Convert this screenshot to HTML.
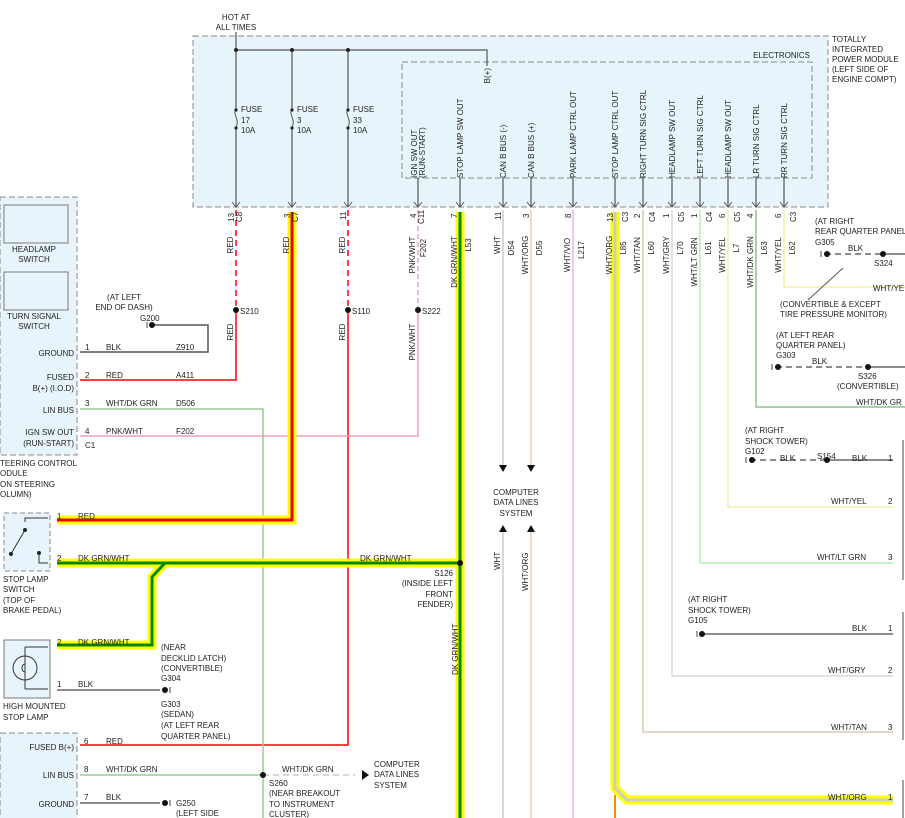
<!DOCTYPE html>
<html><head><meta charset="utf-8"><style>
html,body{margin:0;padding:0;background:#fff;}
svg{display:block;}
text{font-family:"Liberation Sans",sans-serif;font-size:8px;fill:#222;}
</style></head><body>
<svg width="905" height="818" viewBox="0 0 905 818">
<!-- top module -->
<rect x="193" y="36" width="635" height="171" fill="#e8f4fb" stroke="#888" stroke-dasharray="6,3"/>
<rect x="402" y="62" width="410" height="116" fill="none" stroke="#888" stroke-dasharray="6,3"/>
<text x="236" y="20" text-anchor="middle">HOT AT</text>
<text x="236" y="30" text-anchor="middle">ALL TIMES</text>
<text x="810" y="58" text-anchor="end">ELECTRONICS</text>
<text x="832" y="42">TOTALLY</text><text x="832" y="52">INTEGRATED</text><text x="832" y="62">POWER MODULE</text><text x="832" y="72">(LEFT SIDE OF</text><text x="832" y="82">ENGINE COMPT)</text>
<g stroke="#555" fill="none" stroke-width="1.2">
<path d="M236 32V207M292 50V207M348 50V207M236 50H487V66"/>
<path d="M418 178V207M460 178V207M503 178V207M531 178V207M573 178V207M615 178V207M643 178V207M672 178V207M700 178V207M728 178V207M756 178V207M784 178V207"/>
</g>
<g fill="#222"><circle cx="236" cy="50" r="2"/><circle cx="292" cy="50" r="2"/><circle cx="348" cy="50" r="2"/></g>
<!-- fuses -->
<g fill="#e8f4fb" stroke="#555">
<rect x="232" y="110" width="8" height="18" stroke="none"/><rect x="288" y="110" width="8" height="18" stroke="none"/><rect x="344" y="110" width="8" height="18" stroke="none"/>
<path d="M236 110c-4 4 4 8 0 18M292 110c-4 4 4 8 0 18M348 110c-4 4 4 8 0 18" fill="none"/>
</g>
<g fill="#222"><circle cx="236" cy="110" r="1.6"/><circle cx="236" cy="128" r="1.6"/><circle cx="292" cy="110" r="1.6"/><circle cx="292" cy="128" r="1.6"/><circle cx="348" cy="110" r="1.6"/><circle cx="348" cy="128" r="1.6"/></g>
<text x="241" y="112">FUSE</text><text x="241" y="123">17</text><text x="241" y="133">10A</text>
<text x="297" y="112">FUSE</text><text x="297" y="123">3</text><text x="297" y="133">10A</text>
<text x="353" y="112">FUSE</text><text x="353" y="123">33</text><text x="353" y="133">10A</text>
<!-- arrowheads at bottom -->
<g stroke="#555" fill="none">
<path d="M232 202l4 5 4-5M288 202l4 5 4-5M344 202l4 5 4-5M414 202l4 5 4-5M456 202l4 5 4-5M499 202l4 5 4-5M527 202l4 5 4-5M569 202l4 5 4-5M611 202l4 5 4-5M639 202l4 5 4-5M668 202l4 5 4-5M696 202l4 5 4-5M724 202l4 5 4-5M752 202l4 5 4-5M780 202l4 5 4-5"/>
</g>
<!-- column labels -->
<g font-size="7.5">
<text transform="translate(417,178) rotate(-90)">IGN SW OUT</text>
<text transform="translate(425,178) rotate(-90)">(RUN-START)</text>
<text transform="translate(463,178) rotate(-90)">STOP LAMP SW OUT</text>
<text transform="translate(490,68) rotate(-90)" text-anchor="end">B(+)</text>
<text transform="translate(506,178) rotate(-90)">CAN B BUS (-)</text>
<text transform="translate(534,178) rotate(-90)">CAN B BUS (+)</text>
<text transform="translate(576,178) rotate(-90)">PARK LAMP CTRL OUT</text>
<text transform="translate(618,178) rotate(-90)">STOP LAMP CTRL OUT</text>
<text transform="translate(646,178) rotate(-90)">RIGHT TURN SIG CTRL</text>
<text transform="translate(675,178) rotate(-90)">HEADLAMP SW OUT</text>
<text transform="translate(703,178) rotate(-90)">LEFT TURN SIG CTRL</text>
<text transform="translate(731,178) rotate(-90)">HEADLAMP SW OUT</text>
<text transform="translate(759,178) rotate(-90)">LR TURN SIG CTRL</text>
<text transform="translate(787,178) rotate(-90)">RR TURN SIG CTRL</text>
</g>
<!-- left modules -->
<rect x="0" y="197" width="77" height="258" fill="#e8f4fb" stroke="#888" stroke-dasharray="6,3"/>
<rect x="4" y="205" width="64" height="38" fill="#e8f4fb" stroke="#777"/>
<rect x="4" y="272" width="64" height="38" fill="#e8f4fb" stroke="#777"/>
<text x="34" y="252" text-anchor="middle">HEADLAMP</text><text x="34" y="262" text-anchor="middle">SWITCH</text>
<text x="34" y="319" text-anchor="middle">TURN SIGNAL</text><text x="34" y="329" text-anchor="middle">SWITCH</text>
<g text-anchor="end"><text x="74" y="356">GROUND</text><text x="74" y="380">FUSED</text><text x="74" y="391">B(+) (I.O.D)</text><text x="74" y="413">LIN BUS</text><text x="74" y="435">IGN SW OUT</text><text x="74" y="446">(RUN-START)</text></g>
<text x="85" y="448">C1</text>
<text x="0" y="466">TEERING CONTROL</text><text x="0" y="476">ODULE</text><text x="0" y="487">ON STEERING</text><text x="0" y="497">OLUMN)</text>
<rect x="4" y="513" width="46" height="58" fill="#e8f4fb" stroke="#888" stroke-dasharray="5,3"/>
<g stroke="#333" fill="none"><path d="M11 554L25 530M25 522V518H48M39 553V563H48"/></g>
<g fill="#222"><circle cx="11" cy="554" r="2"/><circle cx="25" cy="530" r="2"/><circle cx="39" cy="553" r="2"/></g>
<text x="3" y="582">STOP LAMP</text><text x="3" y="592">SWITCH</text><text x="3" y="603">(TOP OF</text><text x="3" y="613">BRAKE PEDAL)</text>
<rect x="4" y="640" width="46" height="58" fill="#e8f4fb" stroke="#777"/>
<circle cx="25" cy="668" r="12" fill="none" stroke="#333"/>
<path d="M25 647V689M25 647H48M25 689H48M25 664c-4 0-4 8 0 8" stroke="#333" fill="none"/>
<text x="3" y="709">HIGH MOUNTED</text><text x="3" y="720">STOP LAMP</text>
<rect x="0" y="733" width="77" height="90" fill="#e8f4fb" stroke="#888" stroke-dasharray="6,3"/>
<g text-anchor="end"><text x="74" y="750">FUSED B(+)</text><text x="74" y="778">LIN BUS</text><text x="74" y="807">GROUND</text></g>
<!-- wires thin -->
<g fill="none" stroke-width="1.5">
<path d="M236 210V310" stroke="#f00" stroke-dasharray="6,4"/>
<path d="M236 310V380H80" stroke="#f00"/>
<path d="M348 210V310" stroke="#f00" stroke-dasharray="6,4"/>
<path d="M348 310V745H80" stroke="#f00"/>
<path d="M418 210V310" stroke="#f4a0b0" stroke-dasharray="5,3"/>
<path d="M418 310V436H80" stroke="#f4a0b0"/>
<path d="M150 325H208V352H80" stroke="#555"/>
<path d="M80 409H263V818M80 775H263" stroke="#9c9"/>
<path d="M263 775H355" stroke="#ccc" stroke-dasharray="6,4"/>
<path d="M57 690H160M80 803H160" stroke="#666"/>
<path d="M503 210V470M503 530V818" stroke="#ccc"/>
<path d="M531 210V470M531 530V818" stroke="#f0d0b0"/>
<path d="M573 210V818" stroke="#f0b0f0"/>
<path d="M643 210V732H893" stroke="#d8ccb8"/>
<path d="M672 210V676H893" stroke="#d8d8d8"/>
<path d="M700 210V563H893" stroke="#b8ecb8"/>
<path d="M728 210V507H893" stroke="#f4f0a8"/>
<path d="M756 210V407H905" stroke="#90c090"/>
<path d="M784 210V287H905" stroke="#f4f0a8"/>
<path d="M825 254H883M776 367H868M750 460H827" stroke="#666" stroke-dasharray="6,4"/>
<path d="M883 254H905M868 367H905M827 460H893M700 634H893" stroke="#666"/>
<path d="M843 268L808 300" stroke="#555" stroke-width="1"/>
</g>
<!-- thick wires -->
<g fill="none" stroke-linejoin="miter">
<path d="M292 212V520H57" stroke="#ff0" stroke-width="9"/>
<path d="M292 212V520H57" stroke="#e00" stroke-width="3"/>
<path d="M460 212V818M57 563H460M165 563L152 577V645H57" stroke="#ff0" stroke-width="9"/>
<path d="M460 212V818M57 563H460M165 563L152 577V645H57" stroke="#080" stroke-width="3"/>
<path d="M615 212V788L627 800H893" stroke="#ff0" stroke-width="9"/>
<path d="M615 212V788L627 800H893" stroke="#ccc" stroke-width="3"/>
<path d="M615 795V818" stroke="#f80" stroke-width="2"/>
</g>
<!-- dots -->
<g fill="#111"><circle cx="236" cy="310" r="3"/><circle cx="348" cy="310" r="3"/><circle cx="418" cy="310" r="3"/><circle cx="460" cy="563" r="3"/><circle cx="263" cy="775" r="3"/><circle cx="883" cy="254" r="3"/><circle cx="868" cy="367" r="3"/><circle cx="827" cy="460" r="3"/>
<circle cx="152" cy="325" r="3"/><circle cx="827" cy="254" r="3"/><circle cx="778" cy="367" r="3"/><circle cx="752" cy="460" r="3"/><circle cx="702" cy="634" r="3"/><circle cx="165" cy="690" r="3"/><circle cx="165" cy="803" r="3"/>
<path d="M499 465h8l-4 7zM527 465h8l-4 7zM499 532h8l-4-7zM527 532h8l-4-7zM362 770v10l7-5z"/>
</g>
<g stroke="#444"><path d="M147 322v6M821 251v6M772 364v6M746 457v6M697 631v6M170 687v6M170 800v6"/></g>
<!-- right connector brackets -->
<g stroke="#444" fill="none"><path d="M903 440V580M903 612V740M903 780V818"/></g>
<!-- labels near wires -->
<text x="240" y="314">S210</text><text x="352" y="314">S110</text><text x="422" y="314">S222</text>
<text x="124" y="300" text-anchor="middle">(AT LEFT</text><text x="124" y="310" text-anchor="middle">END OF DASH)</text><text x="140" y="321">G200</text>
<text x="85" y="350">1</text><text x="106" y="350">BLK</text><text x="176" y="350">Z910</text>
<text x="85" y="378">2</text><text x="106" y="378">RED</text><text x="176" y="378">A411</text>
<text x="85" y="406">3</text><text x="106" y="406">WHT/DK GRN</text><text x="176" y="406">D506</text>
<text x="85" y="434">4</text><text x="106" y="434">PNK/WHT</text><text x="176" y="434">F202</text>
<text x="57" y="519">1</text><text x="78" y="519">RED</text>
<text x="57" y="561">2</text><text x="78" y="561">DK GRN/WHT</text>
<text x="360" y="561">DK GRN/WHT</text>
<text x="453" y="576" text-anchor="end">S126</text><text x="453" y="586" text-anchor="end">(INSIDE LEFT</text><text x="453" y="597" text-anchor="end">FRONT</text><text x="453" y="607" text-anchor="end">FENDER)</text>
<text x="57" y="645">2</text><text x="78" y="645">DK GRN/WHT</text>
<text x="57" y="687">1</text><text x="78" y="687">BLK</text>
<text x="161" y="650">(NEAR</text><text x="161" y="661">DECKLID LATCH)</text><text x="161" y="671">(CONVERTIBLE)</text><text x="161" y="681">G304</text>
<text x="161" y="707">G303</text><text x="161" y="717">(SEDAN)</text><text x="161" y="728">(AT LEFT REAR</text><text x="161" y="739">QUARTER PANEL)</text>
<text x="84" y="744">6</text><text x="106" y="744">RED</text>
<text x="84" y="772">8</text><text x="106" y="772">WHT/DK GRN</text><text x="282" y="772">WHT/DK GRN</text>
<text x="84" y="800">7</text><text x="106" y="800">BLK</text><text x="176" y="806">G250</text><text x="176" y="816">(LEFT SIDE</text>
<text x="269" y="786">S260</text><text x="269" y="796">(NEAR BREAKOUT</text><text x="269" y="807">TO INSTRUMENT</text><text x="269" y="817">CLUSTER)</text>
<text x="374" y="767">COMPUTER</text><text x="374" y="777">DATA LINES</text><text x="374" y="788">SYSTEM</text>
<text x="516" y="495" text-anchor="middle">COMPUTER</text><text x="516" y="505" text-anchor="middle">DATA LINES</text><text x="516" y="516" text-anchor="middle">SYSTEM</text>
<text transform="translate(500,570) rotate(-90)">WHT</text>
<text transform="translate(528,591) rotate(-90)">WHT/ORG</text>
<text transform="translate(458,675) rotate(-90)">DK GRN/WHT</text>
<!-- right side labels -->
<text x="815" y="224">(AT RIGHT</text><text x="815" y="234">REAR QUARTER PANEL</text><text x="815" y="245">G305</text><text x="848" y="251">BLK</text><text x="874" y="266">S324</text><text x="873" y="291">WHT/YE</text>
<text x="780" y="307">(CONVERTIBLE &amp; EXCEPT</text><text x="780" y="317">TIRE PRESSURE MONITOR)</text>
<text x="776" y="338">(AT LEFT REAR</text><text x="776" y="348">QUARTER PANEL)</text><text x="776" y="358">G303</text><text x="812" y="364">BLK</text><text x="858" y="379">S326</text><text x="837" y="389">(CONVERTIBLE)</text><text x="856" y="405">WHT/DK GR</text>
<text x="745" y="433">(AT RIGHT</text><text x="745" y="444">SHOCK TOWER)</text><text x="745" y="454">G102</text><text x="780" y="461">BLK</text><text x="817" y="459">S154</text><text x="852" y="461">BLK</text><text x="888" y="461">1</text>
<text x="831" y="504">WHT/YEL</text><text x="888" y="504">2</text>
<text x="817" y="560">WHT/LT GRN</text><text x="888" y="560">3</text>
<text x="688" y="602">(AT RIGHT</text><text x="688" y="613">SHOCK TOWER)</text><text x="688" y="623">G105</text><text x="852" y="631">BLK</text><text x="888" y="631">1</text>
<text x="828" y="673">WHT/GRY</text><text x="888" y="673">2</text>
<text x="831" y="730">WHT/TAN</text><text x="888" y="730">3</text>
<text x="828" y="800">WHT/ORG</text><text x="888" y="800">1</text>
<!-- pin/connector labels below box -->
<g font-size="7.5">
<text transform="translate(234,222) rotate(-90)">13</text><text transform="translate(242,222) rotate(-90)">C8</text>
<text transform="translate(290,218) rotate(-90)">3</text><text transform="translate(298,222) rotate(-90)">C7</text>
<text transform="translate(346,220) rotate(-90)">11</text>
<text transform="translate(416,218) rotate(-90)">4</text><text transform="translate(424,224) rotate(-90)">C11</text>
<text transform="translate(457,218) rotate(-90)">7</text>
<text transform="translate(501,220) rotate(-90)">11</text>
<text transform="translate(529,218) rotate(-90)">3</text>
<text transform="translate(571,218) rotate(-90)">8</text>
<text transform="translate(613,222) rotate(-90)">13</text><text transform="translate(628,222) rotate(-90)">C3</text>
<text transform="translate(640,218) rotate(-90)">2</text><text transform="translate(655,222) rotate(-90)">C4</text>
<text transform="translate(669,218) rotate(-90)">1</text><text transform="translate(684,222) rotate(-90)">C5</text>
<text transform="translate(697,218) rotate(-90)">1</text><text transform="translate(712,222) rotate(-90)">C4</text>
<text transform="translate(725,218) rotate(-90)">6</text><text transform="translate(740,222) rotate(-90)">C5</text>
<text transform="translate(753,218) rotate(-90)">4</text>
<text transform="translate(781,218) rotate(-90)">6</text><text transform="translate(796,222) rotate(-90)">C3</text>
<g text-anchor="middle">
<text transform="translate(233,245) rotate(-90)">RED</text><text transform="translate(233,332) rotate(-90)">RED</text>
<text transform="translate(289,245) rotate(-90)">RED</text>
<text transform="translate(345,245) rotate(-90)">RED</text><text transform="translate(345,332) rotate(-90)">RED</text>
<text transform="translate(415,255) rotate(-90)">PNK/WHT</text><text transform="translate(426,248) rotate(-90)">F202</text>
<text transform="translate(415,342) rotate(-90)">PNK/WHT</text>
<text transform="translate(457,262) rotate(-90)">DK GRN/WHT</text><text transform="translate(471,245) rotate(-90)">L53</text>
<text transform="translate(500,245) rotate(-90)">WHT</text><text transform="translate(514,248) rotate(-90)">D54</text>
<text transform="translate(528,255) rotate(-90)">WHT/ORG</text><text transform="translate(542,248) rotate(-90)">D55</text>
<text transform="translate(570,255) rotate(-90)">WHT/VIO</text><text transform="translate(584,250) rotate(-90)">L217</text>
<text transform="translate(612,255) rotate(-90)">WHT/ORG</text><text transform="translate(626,248) rotate(-90)">L85</text>
<text transform="translate(640,255) rotate(-90)">WHT/TAN</text><text transform="translate(654,248) rotate(-90)">L60</text>
<text transform="translate(669,255) rotate(-90)">WHT/GRY</text><text transform="translate(683,248) rotate(-90)">L70</text>
<text transform="translate(697,262) rotate(-90)">WHT/LT GRN</text><text transform="translate(711,248) rotate(-90)">L61</text>
<text transform="translate(725,255) rotate(-90)">WHT/YEL</text><text transform="translate(739,248) rotate(-90)">L7</text>
<text transform="translate(753,262) rotate(-90)">WHT/DK GRN</text><text transform="translate(767,248) rotate(-90)">L63</text>
<text transform="translate(781,255) rotate(-90)">WHT/YEL</text><text transform="translate(795,248) rotate(-90)">L62</text>
</g></g>
</svg>
</body></html>
